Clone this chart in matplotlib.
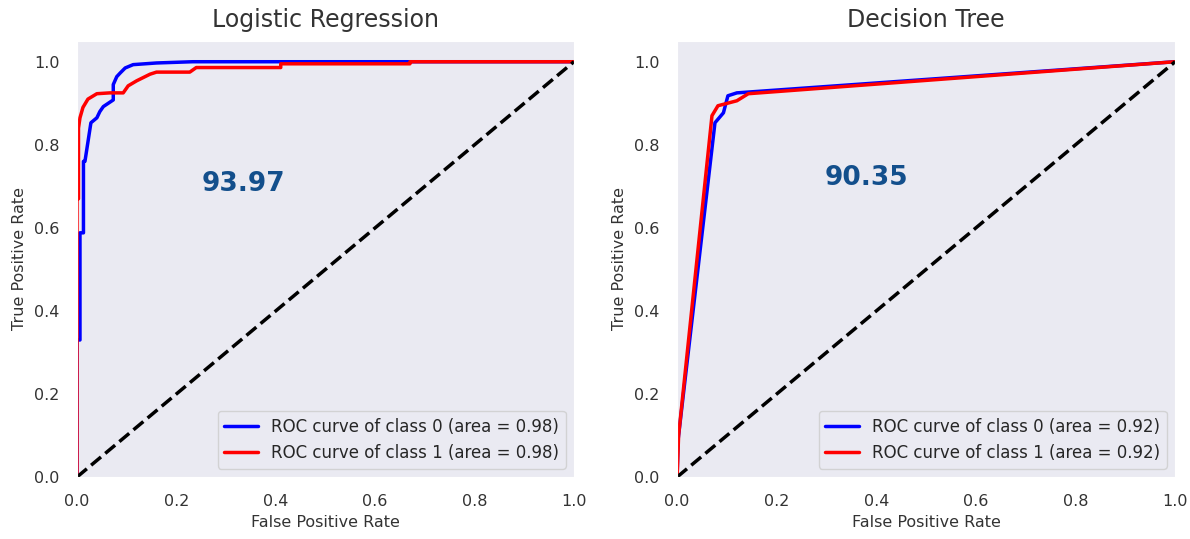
import matplotlib.pyplot as plt
import seaborn as sns

sns.set_style("dark")
plt.rcParams['font.family'] = ['DejaVu Sans']

# Logistic Regression ROC points
lr_fpr0 = [0, 0, 0.006, 0.006, 0.013, 0.013, 0.016, 0.028, 0.04, 0.046, 0.053, 0.063, 0.073,
           0.073, 0.08, 0.087, 0.097, 0.113, 0.16, 0.233, 1.0]
lr_tpr0 = [0, 0.33, 0.33, 0.588, 0.588, 0.76, 0.76, 0.853, 0.865, 0.88, 0.892, 0.90, 0.908,
           0.945, 0.964, 0.973, 0.985, 0.993, 0.997, 1.0, 1.0]
lr_fpr1 = [0, 0, 0.003, 0.003, 0.006, 0.012, 0.022, 0.04, 0.066, 0.093, 0.103, 0.12, 0.147,
           0.16, 0.227, 0.24, 0.41, 0.41, 0.67, 0.67, 1.0]
lr_tpr1 = [0, 0.67, 0.67, 0.84, 0.865, 0.89, 0.91, 0.923, 0.925, 0.925, 0.942, 0.954, 0.97,
           0.975, 0.975, 0.986, 0.986, 0.995, 0.995, 1.0, 1.0]

# Decision Tree ROC points
dt_fpr0 = [0, 0.002, 0.076, 0.093, 0.102, 0.12, 1.0]
dt_tpr0 = [0, 0.09, 0.853, 0.877, 0.918, 0.925, 1.0]
dt_fpr1 = [0, 0.003, 0.07, 0.082, 0.12, 0.143, 1.0]
dt_tpr1 = [0, 0.1, 0.87, 0.894, 0.906, 0.923, 1.0]

titles = ["Logistic Regression", "Decision Tree"]
scores = ["93.97", "90.35"]
areas = [(0.98, 0.98), (0.92, 0.92)]
score_pos = [(0.334, 0.705), (0.38, 0.72)]

fig = plt.figure(figsize=(11.9, 5.39), dpi=100)
ax1 = fig.add_axes([0.0647, 0.115, 0.4176, 0.809])
ax2 = fig.add_axes([0.569, 0.115, 0.4185, 0.809])

curves = [((lr_fpr0, lr_tpr0), (lr_fpr1, lr_tpr1)),
          ((dt_fpr0, dt_tpr0), (dt_fpr1, dt_tpr1))]

for i, ax in enumerate([ax1, ax2]):
    (f0, t0), (f1, t1) = curves[i]
    ax.plot(f0, t0, color="blue", lw=2.5,
            label=f"ROC curve of class 0 (area = {areas[i][0]:.2f})")
    ax.plot(f1, t1, color="red", lw=2.5,
            label=f"ROC curve of class 1 (area = {areas[i][1]:.2f})")
    ax.plot([0, 1], [0, 1], "k--", lw=2.5)
    ax.set_xlim(0, 1)
    ax.set_ylim(0, 1.05)
    ax.set_title(titles[i], fontsize=17, pad=10, color="#333333")
    ax.set_xlabel("False Positive Rate", fontsize=11.5, labelpad=4, color="#333333")
    ax.set_ylabel("True Positive Rate", fontsize=11.5, labelpad=5, color="#333333")
    ax.tick_params(labelsize=11.5, pad=9, labelcolor="#333333")
    ax.text(score_pos[i][0], score_pos[i][1], scores[i], fontsize=19, fontweight="bold",
            color="#134f8c", ha="center", va="center")
    ax.legend(loc="lower right", fontsize=12)

plt.savefig("out.png")
